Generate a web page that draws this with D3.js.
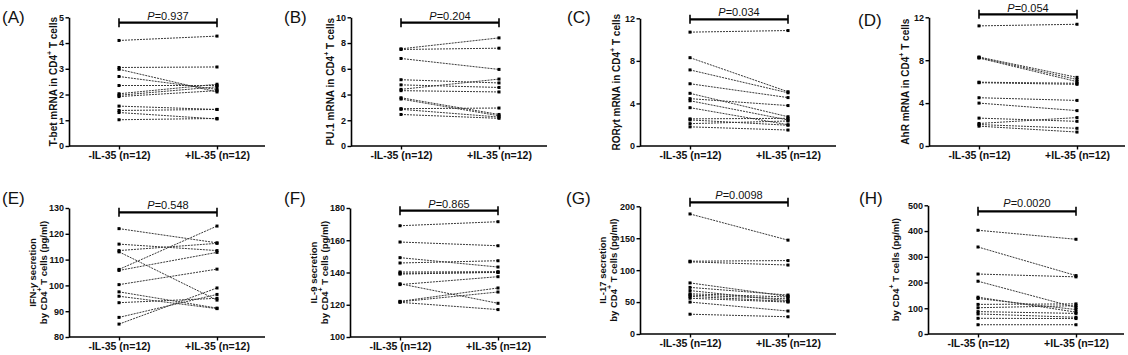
<!DOCTYPE html>
<html><head><meta charset="utf-8">
<script src="https://cdn.jsdelivr.net/npm/d3@7"></script>
<style>
body{margin:0;background:#fff}
svg{display:block}
text{font-family:"Liberation Sans",Arial,sans-serif}
</style>
</head><body>
<svg id="chart" width="1128" height="355"></svg>
<script>
// ---------- DATA ----------
const categories = ["-IL-35 (n=12)", "+IL-35 (n=12)"];
const panelLetters = ["(A)", "(B)", "(C)", "(D)", "(E)", "(F)", "(G)", "(H)"];
const pValues = ["0.937", "0.204", "0.034", "0.054", "0.548", "0.865", "0.0098", "0.0020"];

const tbetBefore = [4.1, 3.05, 2.98, 2.7, 2.35, 2.03, 1.97, 1.92, 1.55, 1.38, 1.3, 1.02];
const tbetAfter  = [4.27, 3.07, 2.1, 2.2, 2.35, 2.4, 2.3, 2.15, 1.42, 1.42, 1.05, 1.07];

const pu1Before = [7.55, 7.5, 6.8, 5.15, 4.75, 4.4, 4.3, 3.75, 3.65, 2.9, 2.85, 2.45];
const pu1After  = [8.4, 7.6, 5.95, 4.9, 4.55, 5.2, 4.2, 2.45, 2.35, 2.95, 2.25, 2.15];

const rorBefore = [10.7, 8.3, 7.15, 5.85, 4.95, 4.45, 4.25, 3.6, 2.55, 2.45, 2.1, 1.8];
const rorAfter  = [10.85, 5.1, 5.0, 4.55, 2.75, 3.8, 2.45, 2.0, 2.6, 1.95, 2.35, 1.5];

const ahrBefore = [11.2, 8.3, 8.25, 8.2, 5.95, 5.9, 4.5, 4.0, 2.6, 2.1, 2.0, 1.85];
const ahrAfter  = [11.35, 6.4, 6.2, 6.0, 5.85, 5.75, 4.25, 3.3, 2.3, 2.65, 1.65, 1.3];

const ifngBefore = [122, 116, 113.5, 113, 106.2, 105.8, 100.3, 97.5, 95.8, 93.3, 87.6, 85];
const ifngAfter  = [116.5, 113.5, 116.3, 94.3, 123, 112.8, 106.3, 91.2, 91, 95, 96.5, 99];

const il9Before = [169, 158.9, 149.2, 145.9, 140.3, 139.5, 139, 133, 132.5, 122.1, 121.8, 121.5];
const il9After  = [171.5, 156.6, 143.4, 147.3, 140.5, 140, 140.2, 120.9, 137.4, 130.4, 127.9, 117];

const il17Before = [188, 114, 113, 80, 73, 68, 63, 61, 59, 56, 50, 31];
const il17After  = [147, 115, 108, 59, 61, 52, 58, 55, 51, 50, 36, 27];

const il22Before = [403, 338, 233, 205, 143, 138, 115, 102, 87, 78, 61, 36];
const il22After  = [368, 227, 222, 103, 85, 95, 117, 110, 80, 65, 60, 36];

const ticksA = [0, 1, 2, 3, 4, 5];
const ticksB = [0, 2, 4, 6, 8, 10];
const ticksC = [0, 4, 8, 12];
const ticksD = [0, 4, 8, 12];
const ticksE = [80, 90, 100, 110, 120, 130];
const ticksF = [100, 120, 140, 160, 180];
const ticksG = [0, 50, 100, 150, 200];
const ticksH = [0, 100, 200, 300, 400, 500];

// titles: array of lines, each line array of [text, style]
const titles = [
  [[["T-bet mRNA in CD4", ""], ["+", "sup"], [" T cells", ""]]],
  [[["PU.1 mRNA in CD4", ""], ["+", "sup"], [" T cells", ""]]],
  [[["ROR", ""], ["γ", "it"], ["t mRNA in CD4", ""], ["+", "sup"], [" T cells", ""]]],
  [[["AhR mRNA in CD4", ""], ["+", "sup"], [" T cells", ""]]],
  [[["IFN-", ""], ["γ", "it"], [" secretion", ""]], [["by CD4", ""], ["+", "sup"], [" T cells (pg/ml)", ""]]],
  [[["IL-9 secretion", ""]], [["by CD4", ""], ["+", "sup"], [" T cells (pg/ml)", ""]]],
  [[["IL-17 secretion", ""]], [["by CD4", ""], ["+", "sup"], [" T cells (pg/ml)", ""]]],
  [[["by CD4", ""], ["+", "sup"], [" T cells (pg/ml)", ""]]]
];

const panelsData = [
  {before: tbetBefore, after: tbetAfter, ticks: ticksA},
  {before: pu1Before, after: pu1After, ticks: ticksB},
  {before: rorBefore, after: rorAfter, ticks: ticksC},
  {before: ahrBefore, after: ahrAfter, ticks: ticksD},
  {before: ifngBefore, after: ifngAfter, ticks: ticksE},
  {before: il9Before, after: il9After, ticks: ticksF},
  {before: il17Before, after: il17After, ticks: ticksG},
  {before: il22Before, after: il22After, ticks: ticksH}
];

// ---------- LAYOUT ----------
const layout = [
  {ax: 69,  top: 17.3, bot: 146, tx: [53],       fs: 10,  pY: 19.5, bY: 22.7, lx: 2,   ly: 17},
  {ax: 351, top: 17.3, bot: 146, tx: [330],      fs: 10,  pY: 19.5, bY: 22.7, lx: 284, ly: 17},
  {ax: 640, top: 18.3, bot: 146, tx: [616],      fs: 10,  pY: 15.5, bY: 19.3, lx: 567, ly: 17.5},
  {ax: 929, top: 17.3, bot: 146, tx: [905],      fs: 10,  pY: 11.5, bY: 14.3, lx: 858, ly: 20},
  {ax: 69,  top: 208,  bot: 337, tx: [31.5, 43], fs: 9.5, pY: 208.5, bY: 212.3, lx: 2,  ly: 198},
  {ax: 350, top: 208,  bot: 337, tx: [312.5, 324], fs: 9.5, pY: 207.8, bY: 210.7, lx: 284, ly: 198},
  {ax: 640, top: 206.3,bot: 334, tx: [602, 613], fs: 9.5, pY: 198.7, bY: 202.3, lx: 566, ly: 198},
  {ax: 928, top: 205.3,bot: 334, tx: [895],      fs: 9.5, pY: 207.3, bY: 211.3, lx: 859, ly: 198}
];

const svg = d3.select("#chart");
const FONT = '"Liberation Sans",Arial,sans-serif';

panelsData.forEach((pd, i) => {
  const L = layout[i];
  const g = svg.append("g");
  const ticks = pd.ticks;
  const y = d3.scaleLinear().domain([ticks[0], ticks[ticks.length - 1]]).range([L.bot, L.top]);
  const x = d3.scalePoint().domain(categories).range([L.ax + 50, L.ax + 148]);

  // y axis
  const yAxis = d3.axisLeft(y).tickValues(ticks).tickFormat(d3.format("d"))
    .tickSize(3.5).tickSizeOuter(0).tickPadding(1.5);
  const ya = g.append("g").attr("transform", `translate(${L.ax},0)`).call(yAxis);
  ya.select(".domain").attr("stroke", "#000").attr("stroke-width", 1.6);
  ya.selectAll(".tick line").attr("stroke", "#000").attr("stroke-width", 1.4);
  ya.selectAll(".tick text").attr("font-size", 9).attr("font-weight", "bold")
    .attr("font-family", FONT).attr("fill", "#111");

  // x axis
  const xAxis = d3.axisBottom(x).tickSize(3.5).tickSizeOuter(0).tickPadding(2);
  const xa = g.append("g").attr("transform", `translate(0,${L.bot})`).call(xAxis);
  xa.select(".domain").remove();
  xa.selectAll(".tick line").attr("stroke", "#000").attr("stroke-width", 1.4);
  xa.selectAll(".tick text").attr("font-size", 10.5).attr("font-weight", "bold")
    .attr("font-family", FONT).attr("fill", "#111");
  g.append("line").attr("x1", L.ax).attr("x2", L.ax + 196).attr("y1", L.bot).attr("y2", L.bot)
    .attr("stroke", "#000").attr("stroke-width", 1.6);

  // paired lines
  pd.before.forEach((b, k) => {
    g.append("line")
      .attr("x1", x(categories[0])).attr("y1", y(b))
      .attr("x2", x(categories[1])).attr("y2", y(pd.after[k]))
      .attr("stroke", "#3a3a3a").attr("stroke-width", 1).attr("stroke-dasharray", "2,1");
  });
  const pts = [];
  pd.before.forEach((b) => pts.push([categories[0], b]));
  pd.after.forEach((a) => pts.push([categories[1], a]));
  g.selectAll("rect.pt").data(pts).enter().append("rect")
    .attr("x", d => x(d[0]) - 1.5).attr("y", d => y(d[1]) - 1.5)
    .attr("width", 3).attr("height", 3).attr("fill", "#000");

  // bracket
  const x0 = x(categories[0]), x1 = x(categories[1]);
  g.append("line").attr("x1", x0).attr("x2", x1).attr("y1", L.bY).attr("y2", L.bY)
    .attr("stroke", "#000").attr("stroke-width", 2.2);
  [x0, x1].forEach(xx => g.append("line").attr("x1", xx).attr("x2", xx)
    .attr("y1", L.bY - 4.5).attr("y2", L.bY + 4.5).attr("stroke", "#000").attr("stroke-width", 1.6));
  const pt = g.append("text").attr("x", (x0 + x1) / 2).attr("y", L.pY)
    .attr("text-anchor", "middle").attr("font-size", 11).attr("fill", "#111");
  pt.append("tspan").attr("font-style", "italic").text("P");
  pt.append("tspan").text("=" + pValues[i]);

  // y title
  const cy = (L.top + L.bot) / 2;
  titles[i].forEach((line, li) => {
    const tx = L.tx[li];
    const t = g.append("text").attr("transform", `translate(${tx},${cy}) rotate(-90)`)
      .attr("text-anchor", "middle").attr("dominant-baseline", "central")
      .attr("font-size", L.fs).attr("font-weight", "bold").attr("fill", "#111");
    let prevSup = false;
    line.forEach(([s, st]) => {
      const ts = t.append("tspan").attr("dominant-baseline", "central").text(s);
      if (st === "sup") { ts.attr("font-size", 7).attr("dy", -4); prevSup = true; }
      else {
        if (st === "it") ts.attr("font-style", "italic");
        if (prevSup) ts.attr("dy", 4);
        prevSup = false;
      }
    });
  });

  // panel letter
  g.append("text").attr("x", L.lx).attr("y", L.ly).attr("dominant-baseline", "central")
    .attr("font-size", 17).attr("fill", "#111").attr("font-family", '"Open Sans","Liberation Sans",sans-serif')
    .text(panelLetters[i]);
});
</script>
</body></html>
